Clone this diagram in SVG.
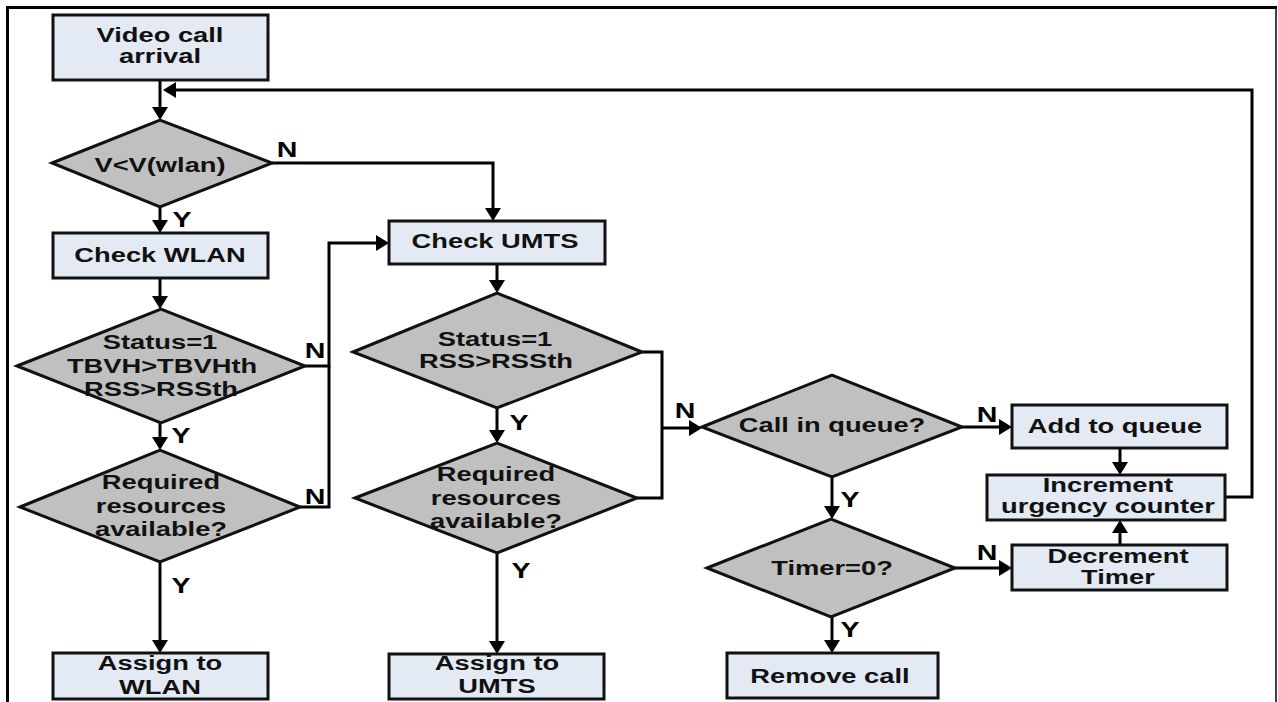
<svg xmlns="http://www.w3.org/2000/svg" width="1278" height="702" viewBox="0 0 1278 702">
<defs>
<marker id="ah" viewBox="0 0 13 16" refX="10" refY="8" markerWidth="13" markerHeight="16" markerUnits="userSpaceOnUse" orient="auto">
<path d="M0,0 L13,8 L0,16 z" fill="#000"/>
</marker>
<style>
.box{fill:#E4EAF4;stroke:#111;stroke-width:3}
.dia{fill:#C0C0C0;stroke:#111;stroke-width:3;stroke-linejoin:miter}
.t{font-family:"Liberation Sans",Arial,sans-serif;font-weight:bold;font-size:21px;fill:#111;text-anchor:middle}
.l{font-family:"Liberation Sans",Arial,sans-serif;font-weight:bold;font-size:22px;fill:#000;text-anchor:middle}
.c{fill:none;stroke:#000;stroke-width:3}
.ca{fill:none;stroke:#000;stroke-width:3;marker-end:url(#ah)}
</style>
</defs>
<rect width="1278" height="702" fill="#fff"/>
<g id="frame">
<line x1="6" y1="7.5" x2="1277" y2="7.5" stroke="#000" stroke-width="3"/>
<line x1="7.5" y1="6" x2="7.5" y2="702" stroke="#000" stroke-width="3"/>
<line x1="1276" y1="7" x2="1276" y2="702" stroke="#000" stroke-width="1.5"/>
</g>
<g id="connectors">
<path class="ca" d="M160,80 V117"/>
<path class="ca" d="M1225,497 H1252 V90 H166"/>
<path class="ca" d="M272,163 H493 V218"/>
<path class="ca" d="M160,207 V230"/>
<path class="ca" d="M160,278 V306"/>
<path class="ca" d="M305,366 H329 V243 H386"/>
<path class="ca" d="M160,423 V447"/>
<path class="c" d="M300,507 H329 V366"/>
<path class="ca" d="M160,562 V650"/>
<path class="ca" d="M497,264 V290"/>
<path class="c" d="M642,352 H662 V498 H637"/>
<path class="ca" d="M662,428 H699"/>
<path class="ca" d="M497,408 V440"/>
<path class="ca" d="M497,553 V651"/>
<path class="ca" d="M962,427 H1009"/>
<path class="ca" d="M832,477 V516"/>
<path class="ca" d="M955,568 H1009"/>
<path class="ca" d="M832,617 V650"/>
<path class="ca" d="M1120,448 V472"/>
<path class="ca" d="M1120,545 V523"/>
</g>
<g id="labels">
<text class="l" transform="translate(287,157) scale(1.3,1)">N</text>
<text class="l" transform="translate(182,227) scale(1.3,1)">Y</text>
<text class="l" transform="translate(315,358) scale(1.3,1)">N</text>
<text class="l" transform="translate(181,443) scale(1.3,1)">Y</text>
<text class="l" transform="translate(315,504) scale(1.3,1)">N</text>
<text class="l" transform="translate(181,593) scale(1.3,1)">Y</text>
<text class="l" transform="translate(685,418) scale(1.3,1)">N</text>
<text class="l" transform="translate(519,430) scale(1.3,1)">Y</text>
<text class="l" transform="translate(521,578) scale(1.3,1)">Y</text>
<text class="l" transform="translate(987,422) scale(1.3,1)">N</text>
<text class="l" transform="translate(850,507) scale(1.3,1)">Y</text>
<text class="l" transform="translate(987,560) scale(1.3,1)">N</text>
<text class="l" transform="translate(850,637) scale(1.3,1)">Y</text>
</g>
<g id="video">
<rect class="box" x="53" y="15" width="215" height="65"/>
<text class="t" transform="translate(160,42) scale(1.3,1)">Video call</text>
<text class="t" transform="translate(160,63) scale(1.3,1)">arrival</text>
</g>
<g id="d1">
<polygon class="dia" points="52,163 160,120 272,163 160,207"/>
<text class="t" transform="translate(160,172) scale(1.3,1)">V&lt;V(wlan)</text>
</g>
<g id="checkWlan">
<rect class="box" x="53" y="233" width="215" height="45"/>
<text class="t" transform="translate(160,262) scale(1.3,1)">Check WLAN</text>
</g>
<g id="d2">
<polygon class="dia" points="17,366 161,309 305,366 161,423"/>
<text class="t" transform="translate(160,349) scale(1.3,1)">Status=1</text>
<text class="t" transform="translate(162,373) scale(1.3,1)">TBVH&gt;TBVHth</text>
<text class="t" transform="translate(161,396) scale(1.3,1)">RSS&gt;RSSth</text>
</g>
<g id="d3">
<polygon class="dia" points="20,507 160,450 300,507 160,562"/>
<text class="t" transform="translate(161,489) scale(1.3,1)">Required</text>
<text class="t" transform="translate(161,513) scale(1.3,1)">resources</text>
<text class="t" transform="translate(161,536) scale(1.3,1)">available?</text>
</g>
<g id="assignWlan">
<rect class="box" x="53" y="653" width="215" height="46"/>
<text class="t" transform="translate(160,670) scale(1.3,1)">Assign to</text>
<text class="t" transform="translate(160,694) scale(1.3,1)">WLAN</text>
</g>
<g id="checkUmts">
<rect class="box" x="389" y="221" width="216" height="43"/>
<text class="t" transform="translate(495,248) scale(1.3,1)">Check UMTS</text>
</g>
<g id="d4">
<polygon class="dia" points="353,352 497,293 642,352 497,408"/>
<text class="t" transform="translate(495,346) scale(1.3,1)">Status=1</text>
<text class="t" transform="translate(496,368) scale(1.3,1)">RSS&gt;RSSth</text>
</g>
<g id="d5">
<polygon class="dia" points="355,498 497,443 637,498 497,553"/>
<text class="t" transform="translate(496,481) scale(1.3,1)">Required</text>
<text class="t" transform="translate(496,505) scale(1.3,1)">resources</text>
<text class="t" transform="translate(496,528) scale(1.3,1)">available?</text>
</g>
<g id="assignUmts">
<rect class="box" x="389" y="654" width="215" height="45"/>
<text class="t" transform="translate(497,670) scale(1.3,1)">Assign to</text>
<text class="t" transform="translate(497,693) scale(1.3,1)">UMTS</text>
</g>
<g id="callInQueue">
<polygon class="dia" points="702,427 832,375 962,427 832,477"/>
<text class="t" transform="translate(832,432) scale(1.3,1)">Call in queue?</text>
</g>
<g id="timer">
<polygon class="dia" points="707,568 831,519 955,568 831,617"/>
<text class="t" transform="translate(832,575) scale(1.3,1)">Timer=0?</text>
</g>
<g id="removeCall">
<rect class="box" x="727" y="653" width="211" height="45"/>
<text class="t" transform="translate(830,683) scale(1.3,1)">Remove call</text>
</g>
<g id="addQueue">
<rect class="box" x="1012" y="405" width="215" height="43"/>
<text class="t" transform="translate(1115,433) scale(1.3,1)">Add to queue</text>
</g>
<g id="increment">
<rect class="box" x="987" y="475" width="238" height="45"/>
<text class="t" transform="translate(1108,492) scale(1.3,1)">Increment</text>
<text class="t" transform="translate(1108,513) scale(1.3,1)">urgency counter</text>
</g>
<g id="decrement">
<rect class="box" x="1012" y="545" width="215" height="45"/>
<text class="t" transform="translate(1118,563) scale(1.3,1)">Decrement</text>
<text class="t" transform="translate(1118,584) scale(1.3,1)">Timer</text>
</g>
</svg>
